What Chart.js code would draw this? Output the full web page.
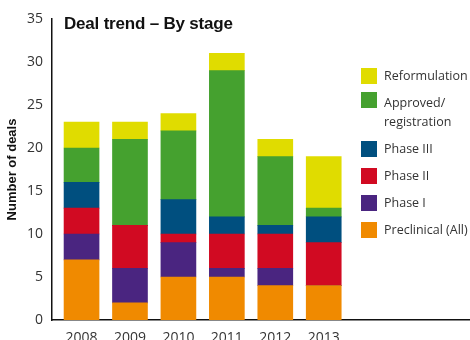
<!DOCTYPE html>
<html>
<head>
<meta charset="utf-8">
<script src="https://cdn.jsdelivr.net/npm/chart.js@4.4.1/dist/chart.umd.min.js"></script>
<style>
  html, body { margin: 0; padding: 0; background: #fff; }
  .wrap { position: relative; width: 470px; height: 340px; overflow: hidden; font-family: "Open Sans", "Liberation Sans", sans-serif; }
  .wrap canvas { position: absolute; left: 0; top: 0; }
  .title { position: absolute; left: 64px; top: 14px; font: bold 17px "Liberation Sans", "DejaVu Sans", sans-serif; color: #111; letter-spacing: -0.2px; }
  .legend { position: absolute; left: 361px; top: 68px; font-size: 12.5px; color: #333; }
  .legend .item { position: relative; padding-left: 23px; line-height: 16px; }
  .legend .box { position: absolute; left: 0; top: 0; width: 16px; height: 16px; }
</style>
</head>
<body>
<div class="wrap">
  <canvas id="chart" width="470" height="340"></canvas>
  <div class="title">Deal trend – By stage</div>
  <div class="legend" id="legend"></div>
</div>
<script>
const years = [2008, 2009, 2010, 2011, 2012, 2013];
const preclinical = [7, 2, 5, 5, 4, 4];
const phase1 = [3, 4, 4, 1, 2, 0];
const phase2 = [3, 5, 1, 4, 4, 5];
const phase3 = [3, 0, 4, 2, 1, 3];
const approved = [4, 10, 8, 17, 8, 1];
const reformulation = [3, 2, 2, 2, 2, 6];
const yTicks = [0, 5, 10, 15, 20, 25, 30, 35];

const series = [
  { label: 'Preclinical (All)', data: preclinical, color: '#f08a00' },
  { label: 'Phase I', data: phase1, color: '#4a2580' },
  { label: 'Phase II', data: phase2, color: '#d10a22' },
  { label: 'Phase III', data: phase3, color: '#004f7f' },
  { label: ['Approved/', 'registration'], data: approved, color: '#45a12f' },
  { label: 'Reformulation', data: reformulation, color: '#e0dc00' }
];

// legend, top to bottom in reverse stacking order
const legendGaps = [0, 10, 9, 11, 11, 11];
const legendEl = document.getElementById('legend');
series.slice().reverse().forEach((s, i) => {
  const item = document.createElement('div');
  item.className = 'item';
  item.style.marginTop = legendGaps[i] + 'px';
  const lines = Array.isArray(s.label) ? s.label : [s.label];
  item.innerHTML = '<span class="box" style="background:' + s.color + '"></span>' +
    lines.map(t => '<div style="line-height:' + (lines.length > 1 ? '21px' : '16px') + ';margin-top:' + (lines.length > 1 ? '-2px' : '0') + '">' + t + '</div>').join('');
  legendEl.appendChild(item);
});

const tickFont = { family: '"Open Sans", "Liberation Sans", sans-serif', size: 14 };

new Chart(document.getElementById('chart'), {
  type: 'bar',
  data: {
    datasets: series.map(s => ({
      label: Array.isArray(s.label) ? s.label.join(' ') : s.label,
      data: years.map((y, i) => ({ x: y, y: s.data[i] })),
      backgroundColor: s.color,
      borderWidth: 0,
      barThickness: 35
    }))
  },
  options: {
    responsive: false,
    animation: false,
    layout: { padding: { top: 19, right: 0, bottom: 0, left: 0 } },
    plugins: { legend: { display: false }, tooltip: { enabled: false } },
    scales: {
      x: {
        type: 'linear',
        stacked: true,
        offset: false,
        min: 2007.39,
        max: 2016.02,
        grid: { display: false, drawTicks: false },
        border: { color: '#111', width: 1.5 },
        afterBuildTicks: (axis) => { axis.ticks = years.map(v => ({ value: v })); },
        ticks: {
          color: '#333',
          font: tickFont,
          padding: 10,
          callback: (v) => String(v)
        },
        afterFit: (axis) => { axis.height = 20; }
      },
      y: {
        stacked: true,
        min: 0,
        max: 35,
        grid: { display: false, drawTicks: false },
        border: { color: '#111', width: 1.5 },
        afterBuildTicks: (axis) => { axis.ticks = yTicks.map(v => ({ value: v })); },
        ticks: { color: '#333', font: tickFont, padding: 9 },
        title: {
          display: true,
          text: 'Number of deals',
          color: '#111',
          font: { family: '"Liberation Sans", "DejaVu Sans", sans-serif', size: 13, weight: 'bold' },
          padding: { top: 5, bottom: 0 }
        },
        afterFit: (axis) => { axis.width = 52; }
      }
    }
  }
});
</script>
</body>
</html>
